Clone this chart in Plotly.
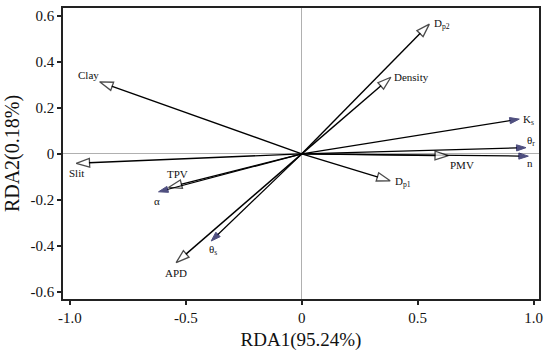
import plotly.graph_objects as go

# ---- data (arrow tips in RDA1 / RDA2 space) ----
variables = ["Clay", "Slit", "TPV", "α", "APD", "θ<sub>s</sub>", "D<sub>p2</sub>",
             "Density", "K<sub>s</sub>", "θ<sub>r</sub>", "n", "PMV", "D<sub>p1</sub>"]
rda1 = [-0.872, -0.973, -0.575, -0.618, -0.542, -0.391, 0.550,
        0.384, 0.938, 0.967, 0.977, 0.632, 0.381]
rda2 = [0.313, -0.041, -0.146, -0.165, -0.473, -0.379, 0.564,
        0.333, 0.151, 0.027, -0.010, -0.008, -0.117]
# open = explanatory (hollow head), filled = response (navy head)
kinds = ["open", "open", "open", "filled", "open", "filled", "open",
         "open", "filled", "filled", "filled", "open", "open"]

x_ticks = [-1.0, -0.5, 0, 0.5, 1.0]
x_tick_text = ["-1.0", "-0.5", "0", "0.5", "1.0"]
y_ticks = [0.6, 0.4, 0.2, 0, -0.2, -0.4, -0.6]
y_tick_text = ["0.6", "0.4", "0.2", "0", "-0.2", "-0.4", "-0.6"]

# ---- styling ----
FONT = "Liberation Serif, Times New Roman, serif"
NAVY = "#05054a"
# label pixel offsets (dx right, dy down) from the arrow tip
label_offsets = [(-11, -7), (0, 10), (9, -13), (-2, 9), (0, 10), (2, 9), (13, 0),
                 (21, 0), (9, 1), (5, -7), (2, 7), (14, 9), (13, 1)]

fig = go.Figure()
for name, x, y, kind in zip(variables, rda1, rda2, kinds):
    if kind == "open":
        marker = dict(symbol="arrow", size=[0, 14], angleref="previous",
                      color="white", line=dict(color="black", width=1.3))
        lw = 1.4
    else:
        marker = dict(symbol="arrow", size=[0, 10], angleref="previous",
                      color=NAVY, line=dict(color=NAVY, width=1))
        lw = 1.2
    fig.add_trace(go.Scatter(
        x=[0, x], y=[0, y], mode="lines+markers",
        line=dict(color="black", width=lw),
        marker=marker, hoverinfo="skip", showlegend=False,
    ))

for name, x, y, (dx, dy) in zip(variables, rda1, rda2, label_offsets):
    fig.add_annotation(x=x, y=y, text=name, showarrow=False,
                       xshift=dx, yshift=-dy, xanchor="center", yanchor="middle",
                       font=dict(family=FONT, size=11, color="#111"))

axis_common = dict(
    showline=True, linecolor="#222", linewidth=1.5, mirror=True,
    ticks="outside", ticklen=4, tickwidth=1.5, tickcolor="#222",
    showgrid=False, zeroline=True, zerolinecolor="#b0b0b0", zerolinewidth=1,
    tickfont=dict(family=FONT, size=15, color="#111"),
    automargin=False,
)

fig.update_xaxes(range=[-1.03, 1.023], tickvals=x_ticks, ticktext=x_tick_text,
                 title=dict(text="RDA1(95.24%)", font=dict(family=FONT, size=19, color="#111"),
                            standoff=8),
                 **axis_common)
fig.update_yaxes(range=[-0.631, 0.634], tickvals=y_ticks, ticktext=y_tick_text,
                 title=dict(text="RDA2(0.18%)", font=dict(family=FONT, size=20, color="#111"),
                            standoff=6),
                 **axis_common)

fig.update_layout(
    width=550, height=354,
    margin=dict(l=63, r=11, t=8, b=55),
    paper_bgcolor="white", plot_bgcolor="white",
    font=dict(family=FONT),
)

fig.write_html("out.html", config={"displayModeBar": False},
               post_script="document.body.style.margin='0';document.body.style.padding='0';")
